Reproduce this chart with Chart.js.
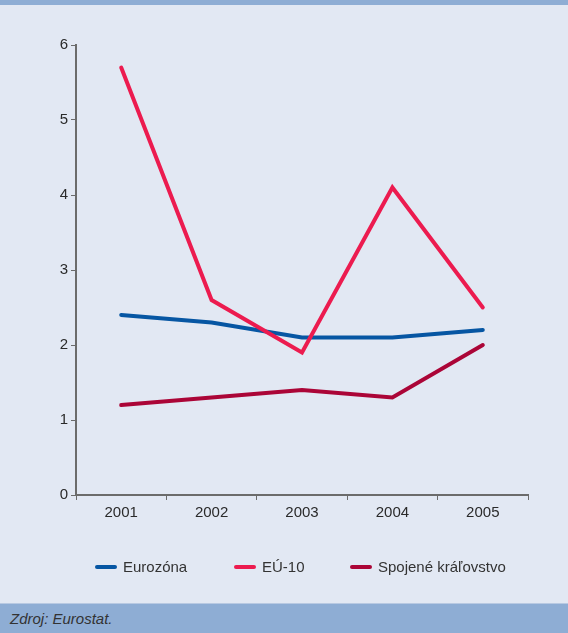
<!DOCTYPE html>
<html>
<head>
<meta charset="utf-8">
<script src="https://cdn.jsdelivr.net/npm/chart.js@4.4.1/dist/chart.umd.min.js"></script>
<style>
  html, body { margin: 0; padding: 0; }
  body { width: 568px; height: 633px; background: #e2e8f3; position: relative; overflow: hidden;
         font-family: "Liberation Sans", Arial, sans-serif; color: #333; }
  #topBand { position: absolute; left: 0; top: 0; width: 568px; height: 5px; background: #8eadd4; }
  #wrap { position: absolute; left: 0; top: 5px; width: 568px; height: 598px; }
  #bottomBand { position: absolute; left: 0; top: 603px; width: 568px; height: 30px; background: #8eadd4;
                border-top: 1px solid #b8c9e2; box-sizing: border-box; }
  #source { position: absolute; left: 10px; top: 6px; font-style: italic; font-size: 15px; color: #333; }
  #legend { position: absolute; left: 0; top: 558px; width: 568px; height: 20px; }
  .item { position: absolute; top: 0; font-size: 15px; line-height: 18px; }
  .item span.sw { position: absolute; left: 0; top: 7px; width: 22px; height: 4px; border-radius: 2px; }
  .item span.lb { position: absolute; left: 28px; top: 0; white-space: nowrap; }
</style>
</head>
<body>
<div id="topBand"></div>
<div id="wrap"><canvas id="chart" width="568" height="598"></canvas></div>
<div id="legend"></div>
<div id="bottomBand"><div id="source">Zdroj: Eurostat.</div></div>
<script>
const years = ["2001", "2002", "2003", "2004", "2005"];
const eurozona = [2.4, 2.3, 2.1, 2.1, 2.2];
const eu10 = [5.7, 2.6, 1.9, 4.1, 2.5];
const uk = [1.2, 1.3, 1.4, 1.3, 2.0];
const seriesNames = ["Eurozóna", "EÚ-10", "Spojené kráľovstvo"];
const seriesColors = ["#0656a3", "#ec1b4f", "#ab0537"];
const legendX = [95, 234, 350];

const axisColor = "#6b6b6b";

const ctx = document.getElementById("chart").getContext("2d");
new Chart(ctx, {
  type: "line",
  data: {
    labels: years,
    datasets: [
      { label: seriesNames[0], data: eurozona, borderColor: seriesColors[0], order: 2 },
      { label: seriesNames[1], data: eu10, borderColor: seriesColors[1], order: 1 },
      { label: seriesNames[2], data: uk, borderColor: seriesColors[2], order: 3 }
    ].map(d => Object.assign(d, {
      borderWidth: 4, pointRadius: 0, tension: 0, fill: false,
      borderCapStyle: "round", borderJoinStyle: "miter"
    }))
  },
  options: {
    responsive: false,
    animation: false,
    layout: { padding: { top: 40, right: 40, left: 0, bottom: 0 } },
    plugins: { legend: { display: false }, tooltip: { enabled: false } },
    scales: {
      x: {
        offset: true,
        grid: { display: true, drawOnChartArea: false, offset: true, tickLength: 5, color: axisColor, lineWidth: 1 },
        border: { color: axisColor, width: 2 },
        ticks: { color: "#2a2a2a", font: { family: "Liberation Sans", size: 15 }, padding: 4, maxRotation: 0 },
        afterFit: s => { s.height = 108; }
      },
      y: {
        min: 0, max: 6,
        grid: { display: true, drawOnChartArea: false, tickLength: 5, color: axisColor, lineWidth: 1 },
        border: { color: axisColor, width: 2 },
        ticks: { stepSize: 1, color: "#2a2a2a", font: { family: "Liberation Sans", size: 15 }, padding: 3 },
        afterFit: s => { s.width = 76; }
      }
    }
  }
});

const legend = document.getElementById("legend");
seriesNames.forEach((name, i) => {
  const el = document.createElement("div");
  el.className = "item";
  el.style.left = legendX[i] + "px";
  el.innerHTML = `<span class="sw" style="background:${seriesColors[i]}"></span><span class="lb">${name}</span>`;
  legend.appendChild(el);
});
</script>
</body>
</html>
